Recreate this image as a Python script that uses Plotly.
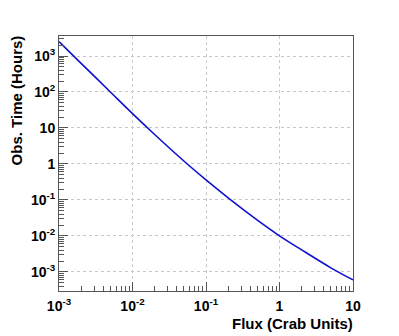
"""Observation time needed vs source flux (log-log)."""

import plotly.graph_objects as go

# values
flux = [1e-3, 2e-3, 5e-3, 1e-2, 2e-2, 5e-2, 0.1, 0.2, 0.5, 1, 2, 5, 10]
obs_hours = [2500, 625, 100, 25, 6.6, 1.21, 0.36, 0.115, 0.0276, 0.0101, 0.0041, 0.0013, 0.0006]

x_tickvals = [1e-3, 1e-2, 1e-1, 1, 10]
x_ticktext = ["10<sup>-3</sup>", "10<sup>-2</sup>", "10<sup>-1</sup>", "1", "10"]
y_tickvals = [1e-3, 1e-2, 1e-1, 1, 10, 1e2, 1e3]
y_ticktext = ["10<sup>-3</sup>", "10<sup>-2</sup>", "10<sup>-1</sup>", "1", "10",
              "10<sup>2</sup>", "10<sup>3</sup>"]

# minor ticks (2..9 within each decade)
x_minor = [m * 10.0 ** e for e in range(-3, 1) for m in range(2, 10)]
y_minor = [m * 10.0 ** e for e in range(-4, 4) for m in range(2, 10)]

tick_font = dict(family="Liberation Sans, Arial", size=14, color="black", weight="bold")
title_font = dict(family="Liberation Sans, Arial", size=15, color="black", weight="bold")

X_RANGE = [-3, 1]
Y_RANGE = [-3.53, 3.556]

fig = go.Figure()
fig.add_trace(go.Scatter(
    x=flux, y=obs_hours, mode="lines",
    line=dict(color="#1010d0", width=1.6, shape="spline"),
    showlegend=False, hoverinfo="skip",
))
# invisible copy on the overlay axes so the minor ticks get drawn
fig.add_trace(go.Scatter(
    x=flux, y=obs_hours, mode="lines", xaxis="x2", yaxis="y2",
    line=dict(width=0), opacity=0, showlegend=False, hoverinfo="skip",
))

axis_common = dict(
    type="log", automargin=False,
    showline=True, linecolor="#555555", linewidth=1, mirror=True,
    ticks="inside", ticklen=9, tickcolor="#555555", tickwidth=1,
    showgrid=True, gridcolor="#c8c8c8", griddash="dot", gridwidth=1,
    zeroline=False,
    tickfont=tick_font,
)
minor_common = dict(
    type="log", automargin=False, showline=False, showgrid=False, zeroline=False,
    ticks="inside", ticklen=5, tickcolor="#555555", tickwidth=1,
    showticklabels=False,
)

fig.update_layout(
    xaxis=dict(range=X_RANGE, tickvals=x_tickvals, ticktext=x_ticktext,
               ticklabelstandoff=2, **axis_common),
    yaxis=dict(range=Y_RANGE, tickvals=y_tickvals, ticktext=y_ticktext, **axis_common),
    xaxis2=dict(range=X_RANGE, tickvals=x_minor, overlaying="x", side="bottom",
                anchor="y2", **minor_common),
    yaxis2=dict(range=Y_RANGE, tickvals=y_minor, overlaying="y", side="left",
                anchor="x2", **minor_common),
)

fig.add_annotation(text="Flux (Crab Units)", xref="paper", yref="paper", x=1.004, y=-0.09,
                   xanchor="right", yanchor="top", showarrow=False, font=title_font,
                   borderpad=0)
fig.add_annotation(text="Obs. Time (Hours)", xref="paper", yref="paper", x=-0.109, y=1.012,
                   xanchor="right", yanchor="top", textangle=-90, showarrow=False,
                   font=title_font)

# page body has an 8px margin, so the figure is shrunk by that much
fig.update_layout(
    width=391, height=328,
    paper_bgcolor="white", plot_bgcolor="white",
    margin=dict(l=51, r=46, t=28, b=45),
)

fig.write_html("out.html")
